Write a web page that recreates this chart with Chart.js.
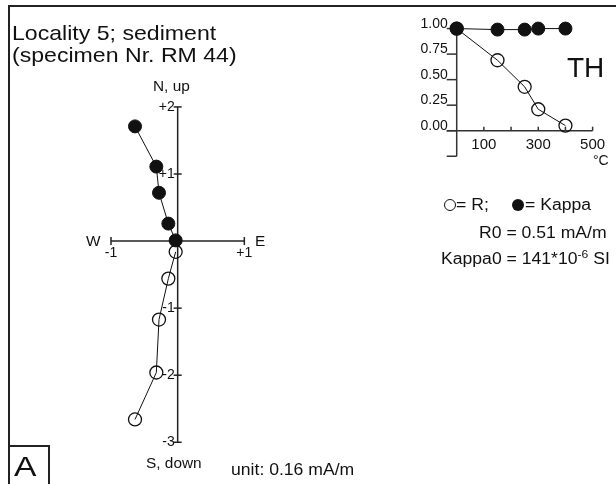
<!DOCTYPE html>
<html>
<head>
<meta charset="utf-8">
<script src="https://cdn.jsdelivr.net/npm/chart.js@4.4.0/dist/chart.umd.min.js"></script>
<style>
  body { margin: 0; background: #fff; }
  #wrap { position: relative; width: 616px; height: 484px; overflow: hidden;
          font-family: "Liberation Sans", Arial, sans-serif; color: #111; }
  .t { position: absolute; white-space: nowrap; line-height: 1;
       transform: scaleX(1.1); transform-origin: left top; }
  canvas { position: absolute; }
  .frame { position: absolute; left: 8px; top: 5px; right: -2px; bottom: -2px;
           border-top: 2px solid #222; border-left: 2px solid #222; }
  .abox { position: absolute; left: 8px; top: 445px; width: 40px; height: 45px;
          border-top: 2px solid #222; border-right: 2px solid #222; }
  .dot { position: absolute; width: 12px; height: 12px; border-radius: 50%; box-sizing: border-box; }
</style>
</head>
<body>
<div id="wrap">
  <div class="frame"></div>
  <div class="abox"></div>
  <canvas id="zij" width="616" height="484" style="left:0;top:0"></canvas>
  <canvas id="th" width="216" height="184" style="left:400px;top:0"></canvas>

  <div class="t" style="font-size:21px;left:12px;top:22px">Locality 5; sediment</div>
  <div class="t" style="font-size:21px;left:12px;top:44px">(specimen Nr. RM 44)</div>
  <div class="t" style="font-size:14px;left:153px;top:79px">N, up</div>
  <div class="t" style="font-size:14px;left:146px;top:456px">S, down</div>
  <div class="t" style="font-size:14px;left:86px;top:234px">W</div>
  <div class="t" style="font-size:14px;left:255px;top:234px">E</div>
  <div class="t" style="font-size:16px;left:231px;top:462px">unit: 0.16 mA/m</div>
  <div class="t" style="font-size:28px;left:14px;top:453px;transform:scaleX(1.2)">A</div>

  <div class="t" style="font-size:28px;left:567px;top:54px;transform:none;font-family:'Liberation Sans Narrow','Liberation Sans',sans-serif">TH</div>
  <div class="t" style="font-size:14px;left:593px;top:153px;transform:none">°C</div>

  <div class="dot" style="left:444px;top:199px;border:1.3px solid #111"></div>
  <div class="t" style="font-size:16px;left:456px;top:197px">= R;</div>
  <div class="dot" style="left:512px;top:199px;background:#111"></div>
  <div class="t" style="font-size:16px;left:525px;top:197px">= Kappa</div>
  <div class="t" style="font-size:16px;left:479px;top:225px">R0 = 0.51 mA/m</div>
  <div class="t" style="font-size:16px;left:441px;top:251px">Kappa0 = 141*10<span style="font-size:11px;position:relative;top:-6px">-6</span> SI</div>
</div>

<script>
// demagnetisation steps (deg C)
const stepsC = [0, 150, 250, 300, 400];
// Zijderveld components, units of 0.16 mA/m
const east = [-0.64, -0.32, -0.28, -0.14, -0.03];
const north = [1.71, 1.11, 0.72, 0.26, 0.01];
const down = [2.66, 1.96, 1.17, 0.56, 0.16];
const ticksV = [2, 1, -1, -2, -3];
const ticksH = [-1, 1];
// normalised intensity and susceptibility
const relR = [1.00, 0.69, 0.43, 0.21, 0.05];
const relKappa = [1.00, 0.99, 0.99, 1.00, 1.00];
const insetTicksY = [1.00, 0.75, 0.50, 0.25, 0.00, -0.25];
const insetLabelsY = [1.00, 0.75, 0.50, 0.25, 0.00];
const insetTicksX = [100, 200, 300, 400, 500];
const insetLabelsX = [100, 300, 500];

const ink = '#111';

function seg(ctx, x1, y1, x2, y2) {
  ctx.beginPath(); ctx.moveTo(x1, y1); ctx.lineTo(x2, y2); ctx.stroke();
}

const zijAxes = {
  id: 'zijAxes',
  beforeDatasetsDraw(chart) {
    const {ctx, scales: {x, y}} = chart;
    const x0 = x.getPixelForValue(0), y0 = y.getPixelForValue(0);
    ctx.save();
    ctx.strokeStyle = '#222';
    ctx.lineWidth = 1.5;
    seg(ctx, x0, y.getPixelForValue(2), x0, y.getPixelForValue(-3));
    seg(ctx, x.getPixelForValue(-1), y0, x.getPixelForValue(1), y0);
    ctx.fillStyle = ink;
    ctx.font = '14px "Liberation Sans", Arial, sans-serif';
    ctx.textAlign = 'right';
    ctx.textBaseline = 'middle';
    ticksV.forEach(v => {
      const py = y.getPixelForValue(v);
      seg(ctx, x0 - 4, py, x0 + 4, py);
      ctx.fillText((v > 0 ? '+' : '-') + Math.abs(v), x0 - 3, py);
    });
    ctx.textAlign = 'center';
    ctx.textBaseline = 'top';
    ticksH.forEach(v => {
      const px = x.getPixelForValue(v);
      seg(ctx, px, y0 - 4, px, y0 + 4);
      ctx.fillText((v > 0 ? '+' : '-') + Math.abs(v), px, y0 + 5);
    });
    ctx.restore();
  }
};

const thAxes = {
  id: 'thAxes',
  beforeDatasetsDraw(chart) {
    const {ctx, scales: {x, y}} = chart;
    const x0 = x.getPixelForValue(0), y0 = y.getPixelForValue(0);
    ctx.save();
    ctx.strokeStyle = '#333';
    ctx.lineWidth = 1.5;
    seg(ctx, x0, y.getPixelForValue(1), x0, y.getPixelForValue(-0.25));
    seg(ctx, x0 - 10, y0, x.getPixelForValue(500), y0);
    insetTicksY.forEach(v => {
      const py = y.getPixelForValue(v);
      seg(ctx, x0 - 10, py, x0, py);
    });
    insetTicksX.forEach(v => {
      const px = x.getPixelForValue(v);
      seg(ctx, px, y0, px, y0 - 4);
    });
    ctx.fillStyle = ink;
    ctx.font = '14px "Liberation Sans", Arial, sans-serif';
    ctx.textAlign = 'right';
    ctx.textBaseline = 'alphabetic';
    insetLabelsY.forEach(v => {
      ctx.fillText(v.toFixed(2), x0 - 9, y.getPixelForValue(v) - 1);
    });
    ctx.font = '15px "Liberation Sans", Arial, sans-serif';
    ctx.textAlign = 'center';
    insetLabelsX.forEach(v => {
      ctx.fillText(String(v), x.getPixelForValue(v), y0 + 18);
    });
    ctx.restore();
  }
};

const baseOpts = {
  responsive: false,
  animation: false,
  events: [],
  layout: {padding: 0},
  plugins: {legend: {display: false}, tooltip: {enabled: false}}
};

new Chart(document.getElementById('zij'), {
  type: 'scatter',
  data: {
    datasets: [
      {
        label: 'horizontal (N-E)',
        data: east.map((e, i) => ({x: e, y: north[i]})),
        showLine: true, borderColor: ink, borderWidth: 1,
        pointRadius: 6.5, pointBackgroundColor: ink, pointBorderColor: ink
      },
      {
        label: 'vertical (up-E)',
        data: east.map((e, i) => ({x: e, y: -down[i]})),
        showLine: true, borderColor: ink, borderWidth: 1,
        pointRadius: 6.5, pointBorderWidth: 1.3,
        pointBackgroundColor: 'rgba(0,0,0,0)', pointBorderColor: ink
      }
    ]
  },
  options: Object.assign({}, baseOpts, {
    scales: {
      x: {type: 'linear', display: false, min: -2.548, max: 6.458},
      y: {type: 'linear', display: false, min: -3.506, max: 3.478}
    }
  }),
  plugins: [zijAxes]
});

new Chart(document.getElementById('th'), {
  type: 'scatter',
  data: {
    datasets: [
      {
        label: 'Kappa',
        data: stepsC.map((t, i) => ({x: t, y: relKappa[i]})),
        showLine: true, borderColor: ink, borderWidth: 1,
        pointRadius: 6.5, pointBackgroundColor: ink, pointBorderColor: ink
      },
      {
        label: 'R',
        data: stepsC.map((t, i) => ({x: t, y: relR[i]})),
        showLine: true, borderColor: ink, borderWidth: 1,
        pointRadius: 6.5, pointBorderWidth: 1.3,
        pointBackgroundColor: 'rgba(0,0,0,0)', pointBorderColor: ink
      }
    ]
  },
  options: Object.assign({}, baseOpts, {
    scales: {
      x: {type: 'linear', display: false, min: -179.9, max: 557.3},
      y: {type: 'linear', display: false, min: -0.4453, max: 1.2034}
    }
  }),
  plugins: [thAxes]
});
</script>
</body>
</html>
